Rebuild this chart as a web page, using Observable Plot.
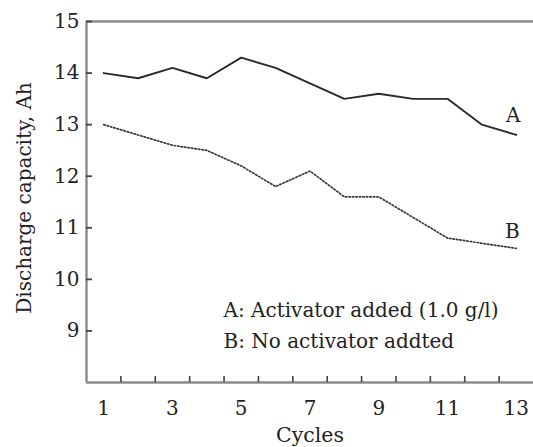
<!DOCTYPE html>
<html>
<head>
<meta charset="utf-8">
<script src="https://cdn.jsdelivr.net/npm/d3@7"></script>
<script src="https://cdn.jsdelivr.net/npm/@observablehq/plot@0.6"></script>
<style>
  html, body { margin: 0; padding: 0; background: #fff; }
  #chart svg { display: block; }
</style>
</head>
<body>
<div id="chart"></div>
<script>
const cycles = [1, 2, 3, 4, 5, 6, 7, 8, 9, 10, 11, 12, 13];
const seriesA = [14.0, 13.9, 14.1, 13.9, 14.3, 14.1, 13.8, 13.5, 13.6, 13.5, 13.5, 13.0, 12.8];
const seriesB = [13.0, 12.8, 12.6, 12.5, 12.2, 11.8, 12.1, 11.6, 11.6, 11.2, 10.8, 10.7, 10.6];
const xTickLabels = [1, 3, 5, 7, 9, 11, 13];
const xMinorTicks = [1.5, 2.5, 3.5, 4.5, 5.5, 6.5, 7.5, 8.5, 9.5, 10.5, 11.5, 12.5];
const yTickLabels = [9, 10, 11, 12, 13, 14, 15];
const seriesNames = ["A", "B"];
const legendLines = ["A: Activator added (1.0 g/l)", "B: No activator addted"];
const xLabel = "Cycles";
const yLabel = "Discharge capacity, Ah";
const xDomain = [0.5, 13.5];
const yDomain = [8, 15];

const dataA = cycles.map((c, i) => ({cycle: c, value: seriesA[i]}));
const dataB = cycles.map((c, i) => ({cycle: c, value: seriesB[i]}));
const last = cycles.length - 1;
const endA = [{name: seriesNames[0], cycle: cycles[last], value: seriesA[last]}];
const endB = [{name: seriesNames[1], cycle: cycles[last], value: seriesB[last]}];

const axisColor = "#8c8c8c";
const textColor = "#222";
const font = "'DejaVu Serif', 'Liberation Serif', serif";

const chart = Plot.plot({
  width: 533,
  height: 447,
  marginLeft: 86,
  marginRight: 0,
  marginTop: 21,
  marginBottom: 65,
  x: {domain: xDomain},
  y: {domain: yDomain},
  style: {fontFamily: font, fontSize: "20px", color: textColor, background: "#fff"},
  marks: [
    // frame lines (left, bottom, top)
    Plot.ruleX([xDomain[0]], {stroke: axisColor, strokeWidth: 2.4}),
    Plot.ruleY([yDomain[0], yDomain[1]], {stroke: axisColor, strokeWidth: 2.4}),
    // x minor inward ticks
    Plot.axisX({ticks: xMinorTicks, tickSize: -6, tickFormat: () => "", label: null, stroke: "#444", strokeWidth: 1.6}),
    // x tick labels
    Plot.axisX({ticks: xTickLabels, tickSize: 0, tickPadding: 18, tickFormat: d => String(d), label: null, fill: textColor, fontSize: 20}),
    // y inward ticks
    Plot.axisY({ticks: yTickLabels, tickSize: -6, tickFormat: () => "", label: null, stroke: "#444", strokeWidth: 1.8}),
    // y tick labels
    Plot.axisY({ticks: yTickLabels, tickSize: 0, tickPadding: 7, tickFormat: d => String(d), label: null, fill: textColor, fontSize: 20}),
    // series
    Plot.line(dataA, {x: "cycle", y: "value", stroke: "#2a2a2a", strokeWidth: 1.9}),
    Plot.line(dataB, {x: "cycle", y: "value", stroke: "#3a3a3a", strokeWidth: 1.7, strokeDasharray: "1.5,2"}),
    // series end labels
    Plot.text(endA, {x: "cycle", y: "value", text: "name", dx: -3, dy: -19, fill: textColor, fontSize: 20}),
    Plot.text(endB, {x: "cycle", y: "value", text: "name", dx: -4, dy: -17, fill: textColor, fontSize: 20}),
    // legend text
    Plot.text([legendLines.join("\n")], {frameAnchor: "bottom-left", dx: 137, dy: -35, textAnchor: "start", lineAnchor: "bottom", lineHeight: 1.52, fill: textColor, fontSize: 20}),
    // axis titles
    Plot.text([xLabel], {frameAnchor: "bottom", dy: 53, textAnchor: "middle", lineAnchor: "middle", fill: textColor, fontSize: 20.5}),
    Plot.text([yLabel], {frameAnchor: "left", rotate: -90, dx: -62, dy: -4, textAnchor: "middle", lineAnchor: "middle", fill: textColor, fontSize: 20})
  ]
});
document.getElementById("chart").appendChild(chart);
</script>
</body>
</html>
